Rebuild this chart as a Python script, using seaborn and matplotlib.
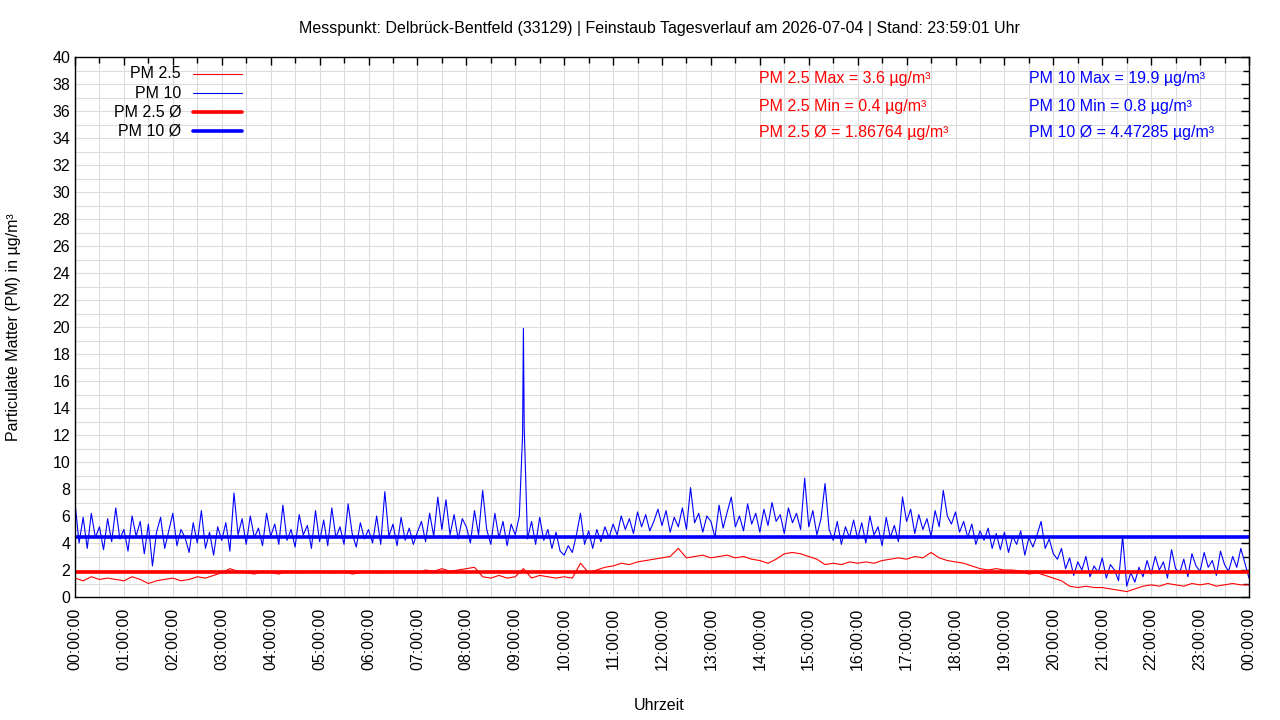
import numpy as np
import pandas as pd
import seaborn as sns
import matplotlib.pyplot as plt
from matplotlib.lines import Line2D
from matplotlib.ticker import MultipleLocator, FuncFormatter

# PM10, one value every 5 minutes (00:00 .. 24:00)
pm10_values = [
    7.0, 4.0, 5.9, 3.6, 6.2, 4.4, 5.2, 3.5, 5.8, 4.1, 6.6, 4.3,
    5.0, 3.4, 6.0, 4.5, 5.6, 3.2, 5.4, 2.3, 4.8, 5.9, 3.6, 4.9,
    6.2, 3.8, 5.0, 4.4, 3.3, 5.5, 4.0, 6.4, 3.6, 4.8, 3.1, 5.2,
    4.2, 5.5, 3.4, 7.7, 4.6, 5.8, 3.9, 6.0, 4.4, 5.1, 3.8, 6.2,
    4.5, 5.4, 3.9, 6.8, 4.2, 5.0, 3.7, 6.1, 4.6, 5.3, 3.6, 6.4,
    4.1, 5.7, 3.8, 6.6, 4.4, 5.2, 3.9, 6.9, 4.7, 3.7, 5.5, 4.3,
    5.0, 4.0, 6.0, 3.9, 7.8, 4.5, 5.4, 3.8, 5.9, 4.2, 5.1, 3.9,
    4.8, 5.6, 4.1, 6.2, 4.5, 7.4, 5.0, 7.2, 4.6, 6.1, 4.3, 5.8,
    5.2, 4.0, 6.4, 4.6, 7.9, 5.0, 3.9, 6.2, 4.4, 5.6, 3.8, 5.4,
    4.6, 6.0, 19.9, 4.3, 5.6, 3.9, 5.9, 4.2, 5.0, 3.6, 4.8, 3.4,
    3.1, 3.8, 3.3, 4.6, 6.2, 3.9, 4.9, 3.6, 5.0, 4.1, 5.2, 4.4,
    5.4, 4.6, 6.0, 5.0, 5.8, 4.7, 6.3, 5.2, 6.1, 4.9, 5.6, 6.5,
    5.3, 6.4, 4.8, 5.9, 5.2, 6.6, 5.0, 8.1, 5.5, 6.2, 4.8, 6.0,
    5.6, 4.4, 6.8, 5.1, 6.3, 7.4, 5.2, 6.0, 4.9, 6.9, 5.4, 6.2,
    4.8, 6.5, 5.3, 7.0, 5.6, 6.1, 4.7, 6.6, 5.5, 6.2, 5.0, 8.8,
    5.2, 6.4, 4.6, 5.8, 8.4, 5.0, 4.2, 5.6, 3.9, 5.2, 4.4, 5.7,
    4.3, 5.5, 4.0, 6.0, 4.6, 5.2, 3.8, 5.9, 4.4, 5.3, 4.1, 7.4,
    5.6, 6.5, 4.7, 6.1, 5.0, 5.8, 4.5, 6.4, 5.2, 7.9, 6.0, 5.4,
    6.3, 4.8, 5.6, 4.4, 5.4, 3.9, 4.9, 4.2, 5.1, 3.6, 4.7, 3.5,
    4.8, 3.3, 4.5, 3.9, 4.9, 3.1, 4.4, 3.7, 4.6, 5.6, 3.6, 4.3,
    3.2, 2.8, 3.6, 2.1, 2.9, 1.6, 2.6, 2.0, 3.0, 1.5, 2.3, 1.8,
    2.9, 1.4, 2.4, 2.0, 1.2, 4.5, 0.8, 1.8, 1.1, 2.2, 1.5, 2.7,
    1.7, 3.0, 2.0, 2.6, 1.4, 3.5, 2.1, 1.8, 2.8, 1.5, 3.2, 2.3,
    1.9, 3.3, 2.2, 2.7, 1.6, 3.4, 2.4, 1.9, 3.0, 2.2, 3.6, 2.5,
    1.4,
]
# extra minute samples around the 09:10 peak
spike_minutes = [549, 551]
spike_values = [12.0, 12.5]

# PM2.5, one value every 10 minutes
pm25_values = [
    1.4, 1.2, 1.5, 1.3, 1.4, 1.3,
    1.2, 1.5, 1.3, 1.0, 1.2, 1.3,
    1.4, 1.2, 1.3, 1.5, 1.4, 1.6,
    1.8, 2.1, 1.9, 1.8, 1.7, 1.9,
    1.8, 1.7, 1.9, 1.8, 1.8, 1.9,
    1.9, 1.8, 1.8, 1.9, 1.7, 1.8,
    1.9, 1.8, 1.8, 1.9, 1.8, 1.9,
    1.8, 2.0, 1.9, 2.1, 1.9, 2.0,
    2.1, 2.2, 1.5, 1.4, 1.6, 1.4,
    1.5, 2.1, 1.4, 1.6, 1.5, 1.4,
    1.5, 1.4, 2.5, 1.8, 2.0, 2.2,
    2.3, 2.5, 2.4, 2.6, 2.7, 2.8,
    2.9, 3.0, 3.6, 2.9, 3.0, 3.1,
    2.9, 3.0, 3.1, 2.9, 3.0, 2.8,
    2.7, 2.5, 2.8, 3.2, 3.3, 3.2,
    3.0, 2.8, 2.4, 2.5, 2.4, 2.6,
    2.5, 2.6, 2.5, 2.7, 2.8, 2.9,
    2.8, 3.0, 2.9, 3.3, 2.9, 2.7,
    2.6, 2.5, 2.3, 2.1, 2.0, 2.1,
    2.0, 2.0, 1.9, 1.7, 1.8, 1.6,
    1.4, 1.2, 0.8, 0.7, 0.8, 0.7,
    0.7, 0.6, 0.5, 0.4, 0.6, 0.8,
    0.9, 0.8, 1.0, 0.9, 0.8, 1.0,
    0.9, 1.0, 0.8, 0.9, 1.0, 0.9,
    0.9,
]

pm25_mean = 1.86764
pm10_mean = 4.47285
pm25_max, pm25_min = 3.6, 0.4
pm10_max, pm10_min = 19.9, 0.8

title = "Messpunkt: Delbrück-Bentfeld (33129) | Feinstaub Tagesverlauf am 2026-07-04 | Stand: 23:59:01 Uhr"

pm10_minutes = list(range(0, 24 * 60 + 1, 5)) + spike_minutes
df10 = pd.DataFrame({"h": np.array(pm10_minutes) / 60.0,
                     "v": pm10_values + spike_values}).sort_values("h")
df25 = pd.DataFrame({"h": np.arange(0, 24 * 60 + 1, 10) / 60.0,
                     "v": pm25_values})

sns.set_theme(style="white")
plt.rcParams['font.family'] = ['Liberation Sans', 'DejaVu Sans']
plt.rcParams['text.color'] = 'black'
plt.rcParams['axes.labelcolor'] = 'black'

fig = plt.figure(figsize=(12.8, 7.2), dpi=100)
ax = fig.add_axes([75 / 1280, 1 - 597 / 720, 1174 / 1280, 540 / 720])

sns.lineplot(data=df10, x="h", y="v", ax=ax, color="#0000ff", lw=0.8, estimator=None, sort=False)
sns.lineplot(data=df25, x="h", y="v", ax=ax, color="#ff0000", lw=0.8, estimator=None)
ax.axhline(pm25_mean, color="#ff0000", lw=2.6)
ax.axhline(pm10_mean, color="#0000ff", lw=2.6)

ax.set_xlim(0, 24)
ax.set_ylim(0, 40)
ax.xaxis.set_major_locator(MultipleLocator(1))
ax.xaxis.set_minor_locator(MultipleLocator(0.5))
ax.yaxis.set_major_locator(MultipleLocator(2))
ax.yaxis.set_minor_locator(MultipleLocator(1))
ax.xaxis.set_major_formatter(FuncFormatter(lambda h, p: f"{int(round(h)) % 24:02d}:00:00"))
ax.grid(True, which="both", color="#dcdcdc", lw=0.8)
ax.set_axisbelow(True)
ax.tick_params(which="both", direction="in", top=True, right=True, color="black")
ax.tick_params(which="major", length=6, width=1, labelsize=11.5, colors="black")
ax.tick_params(which="minor", length=4, width=1)
ax.tick_params(axis="x", which="major", labelrotation=90, pad=8)
for s in ax.spines.values():
    s.set_color("black")
    s.set_linewidth(1)

ax.set_xlabel("")
ax.set_ylabel("")
fig.text(659 / 1280, 1 - 28 / 720, title, ha="center", va="center", fontsize=11.5)
fig.text(659 / 1280, 1 - 705 / 720, "Uhrzeit", ha="center", va="center", fontsize=11.5)
fig.text(14 / 1280, 1 - 327 / 720, "Particulate Matter (PM) in µg/m³", rotation=90,
         ha="center", va="center", fontsize=11.5)

# gnuplot-like key: text right aligned, sample line to the right
keys = [("PM 2.5", "#ff0000", 0.8), ("PM 10", "#0000ff", 0.8),
        ("PM 2.5 Ø", "#ff0000", 2.6), ("PM 10 Ø", "#0000ff", 2.6)]
for i, (lab, col, lw) in enumerate(keys):
    yy = 1 - (74 + 19 * i) / 720
    fig.text(181 / 1280, yy, lab, ha="right", va="center", fontsize=11.5)
    fig.add_artist(Line2D([193 / 1280, 242 / 1280], [yy, yy], color=col, lw=lw,
                          transform=fig.transFigure))

stats_red = [f"PM 2.5 Max = {pm25_max} µg/m³", f"PM 2.5 Min = {pm25_min} µg/m³",
             f"PM 2.5 Ø = {pm25_mean} µg/m³"]
stats_blue = [f"PM 10 Max = {pm10_max} µg/m³", f"PM 10 Min = {pm10_min} µg/m³",
              f"PM 10 Ø = {pm10_mean} µg/m³"]
for i, (r, b) in enumerate(zip(stats_red, stats_blue)):
    yy = 1 - (79 + 27 * i) / 720
    fig.text(759 / 1280, yy, r, ha="left", va="center", fontsize=11.5, color="#ff0000")
    fig.text(1029 / 1280, yy, b, ha="left", va="center", fontsize=11.5, color="#0000ff")

fig.savefig("out.png", dpi=100)
